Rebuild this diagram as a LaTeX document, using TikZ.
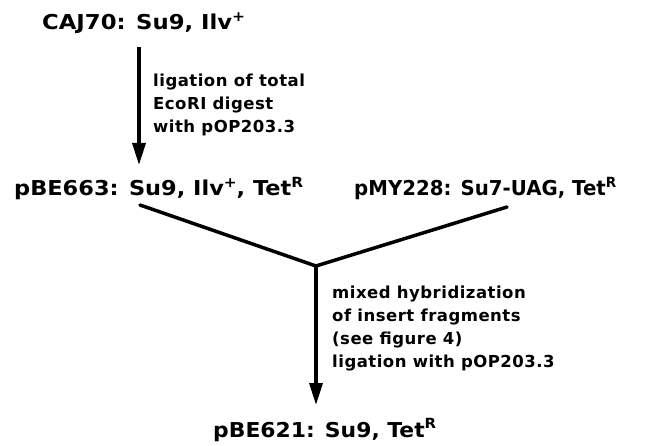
\documentclass[tikz,border=0pt]{standalone}
\usepackage{fontspec}
\usepackage{graphicx}
\usetikzlibrary{arrows.meta}
\newfontfamily\bigfont{DejaVu Sans Bold}
\newfontfamily\smallfont[LetterSpace=3]{DejaVu Sans Bold}
\newcommand{\sups}[1]{\raisebox{0.42em}{\fontsize{14}{14}\selectfont #1}}
\newcommand{\fitw}[2]{\resizebox{#1}{\height}{#2}}
\tikzset{
  strain/.style={inner sep=0pt, anchor=base west, font=\bigfont\fontsize{20.5}{24}\selectfont},
  note/.style={inner sep=0pt, anchor=base west, align=left, font=\smallfont\fontsize{16.5}{23}\selectfont},
  arr/.style={line width=3.5pt, -{Triangle[length=22pt,width=13pt]}},
  vline/.style={line width=3.5pt, line cap=round, line join=miter}
}
\begin{document}
\begin{tikzpicture}[x=1pt,y=-1pt]
\useasboundingbox (0,0) rectangle (660,446);
\node[strain] (caj) at (42,30) {\fitw{203pt}{CAJ70: Su9, Ilv\sups{+}}};
\node[strain] (pbe663) at (14,196) {\fitw{289pt}{pBE663: Su9, Ilv\sups{+}, Tet\sups{R}}};
\node[strain] (pmy) at (354,196) {\fitw{262pt}{pMY228: Su7-UAG, Tet\sups{R}}};
\node[strain] (pbe621) at (213,437) {\fitw{223pt}{pBE621: Su9, Tet\sups{R}}};
\node[note] (n1) at (153,133) {ligation of total\\EcoRI digest\\with pOP203.3};
\node[note] (n2) at (332,367) {mixed hybridization\\of insert fragments\\(see figure 4)\\ligation with pOP203.3};
\coordinate (a1s) at (139,47);
\coordinate (a1e) at (139,165);
\coordinate (vl) at (140,205);
\coordinate (vr) at (507,207);
\coordinate (vj) at (316,266);
\coordinate (a2e) at (316,405);
\draw[arr] (a1s) -- (a1e);
\draw[vline] (vl) -- (vj) -- (vr);
\draw[arr] (vj) -- (a2e);
\end{tikzpicture}
\end{document}
